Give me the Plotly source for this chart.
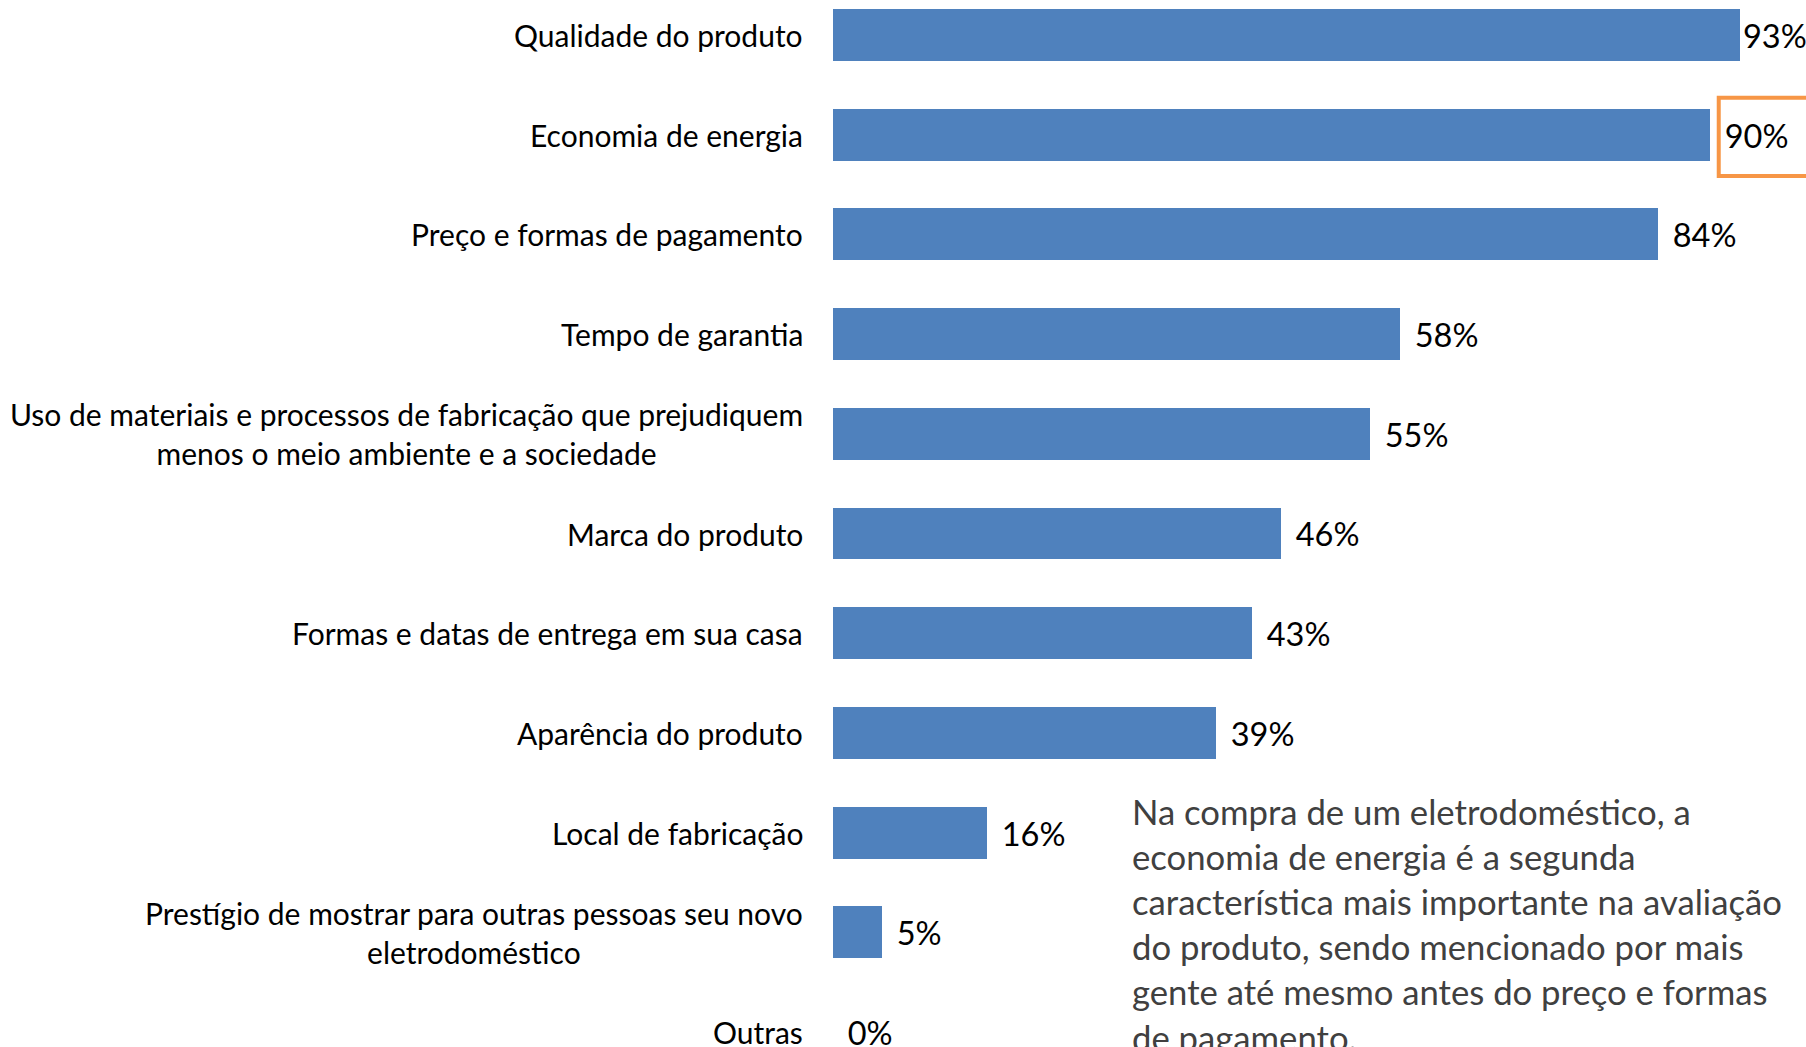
import plotly.graph_objects as go

categories = [
    "Qualidade do produto",
    "Economia de energia",
    "Preço e formas de pagamento",
    "Tempo de garantia",
    "Uso de materiais e processos de fabricação que prejudiquem<br>menos o meio ambiente e a sociedade",
    "Marca do produto",
    "Formas e datas de entrega em sua casa",
    "Aparência do produto",
    "Local de fabricação",
    "Prestígio de mostrar para outras pessoas seu novo<br>eletrodoméstico",
    "Outras",
]
values = [93, 90, 84.6, 58.2, 55.1, 46, 43, 39.3, 15.8, 5, 0]
value_labels = ["93%", "90%", "84%", "58%", "55%", "46%", "43%", "39%", "16%", "5%", "0%"]

note_text = ("Na compra de um eletrodoméstico, a<br>"
             "economia de energia é a segunda<br>"
             "característica mais importante na avaliação<br>"
             "do produto, sendo mencionado por mais<br>"
             "gente até mesmo antes do preço e formas<br>"
             "de pagamento.")

FONT = "Lato, Carlito, Calibri, sans-serif"
BAR_COLOR = "#4F81BD"

# padding before data labels (the top bar's label sits against the edge)
PAD = "\u2005<span style='font-size:14px'>\u00a0</span>"
texts = [lbl if i == 0 else PAD + lbl for i, lbl in enumerate(value_labels)]
y_idx = list(range(len(categories)))

fig = go.Figure()
fig.add_trace(go.Bar(
    x=values,
    y=y_idx,
    orientation="h",
    width=0.52,
    marker=dict(color=BAR_COLOR, line=dict(width=0)),
    text=texts,
    textposition="outside",
    textfont=dict(family=FONT, size=32.5, color="#000000"),
    constraintext="none",
    cliponaxis=False,
    hoverinfo="skip",
))

# category labels, centred multi-line like the original
for i, cat in enumerate(categories):
    fig.add_annotation(
        x=0, y=i, xref="x", yref="y",
        text=cat, showarrow=False,
        xanchor="right", yanchor="middle", xshift=-28,
        align="center",
        font=dict(family=FONT, size=30, color="#000000"),
    )

# highlight box around the "Economia de energia" value
fig.add_shape(
    type="rect", xref="x", yref="y",
    x0=values[1] + 0.85, x1=values[1] + 14,
    y0=1 - 0.37, y1=1 + 0.415,
    line=dict(color="#F79646", width=4),
    fillcolor="rgba(0,0,0,0)",
)

fig.add_annotation(
    x=(1130 - 833) / 973, y=1 - 789 / 1047, xref="paper", yref="paper",
    text=note_text, showarrow=False,
    xanchor="left", yanchor="top", align="left",
    font=dict(family=FONT, size=34.7, color="#404040"),
)

fig.update_layout(
    width=1806, height=1047,
    margin=dict(l=833, r=0, t=0, b=0),
    paper_bgcolor="white", plot_bgcolor="white",
    showlegend=False,
    bargap=0,
    xaxis=dict(range=[0, 99.8], visible=False, fixedrange=True),
    yaxis=dict(range=[10.15, -0.351], showticklabels=False, showgrid=False,
               zeroline=False, showline=False, ticks="", fixedrange=True),
)

fig.write_html("out.html", config={"displayModeBar": False},
               post_script="document.body.style.margin='0';")
